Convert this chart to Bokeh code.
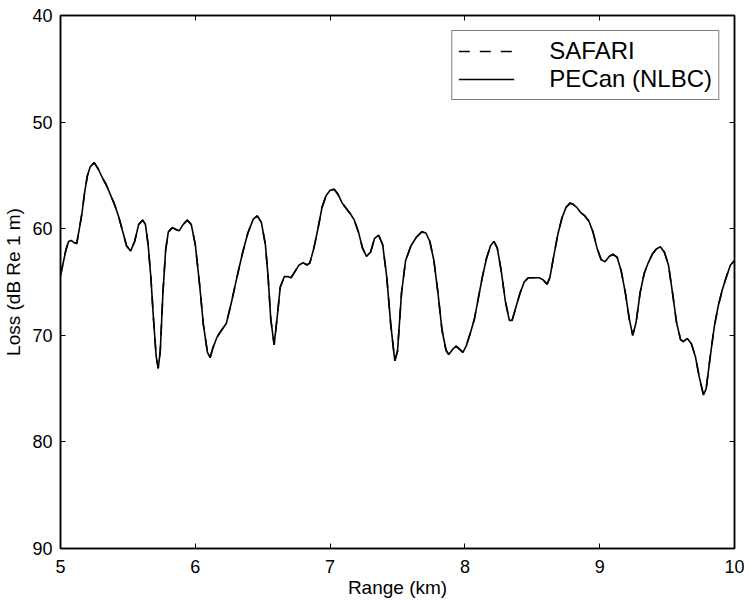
from bokeh.plotting import figure
from bokeh.models import Range1d, LinearAxis, Legend, LegendItem, FixedTicker
from bokeh.embed import file_html
from bokeh.resources import INLINE

range_km = [5.00, 5.02, 5.04, 5.06, 5.08, 5.10, 5.12, 5.14, 5.16, 5.18, 5.20, 5.22, 5.25, 5.28, 5.31,
            5.34, 5.37, 5.40, 5.43, 5.46, 5.49, 5.52, 5.55, 5.58, 5.61, 5.63, 5.65, 5.67, 5.69, 5.71,
            5.725, 5.74, 5.76, 5.78, 5.80, 5.83, 5.86, 5.88, 5.91, 5.94, 5.97, 6.00, 6.03, 6.06, 6.09,
            6.11, 6.13, 6.16, 6.19, 6.23, 6.27, 6.31, 6.35, 6.39, 6.43, 6.46, 6.49, 6.52, 6.54, 6.56,
            6.585, 6.61, 6.63, 6.66, 6.69, 6.71, 6.74, 6.77, 6.80, 6.83, 6.85, 6.88, 6.91, 6.94, 6.97,
            7.00, 7.03, 7.06, 7.09, 7.12, 7.15, 7.18, 7.21, 7.24, 7.27, 7.30, 7.33, 7.36, 7.39, 7.42,
            7.45, 7.48, 7.50, 7.53, 7.56, 7.60, 7.64, 7.68, 7.71, 7.74, 7.77, 7.80, 7.83, 7.86, 7.88,
            7.91, 7.935, 7.96, 7.985, 8.01, 8.04, 8.07, 8.10, 8.13, 8.16, 8.19, 8.215, 8.24, 8.27, 8.30,
            8.33, 8.35, 8.38, 8.41, 8.44, 8.47, 8.51, 8.55, 8.58, 8.61, 8.63, 8.66, 8.69, 8.72, 8.75,
            8.78, 8.80, 8.83, 8.86, 8.89, 8.92, 8.95, 8.98, 9.01, 9.04, 9.07, 9.10, 9.13, 9.16, 9.19,
            9.22, 9.245, 9.27, 9.30, 9.33, 9.36, 9.39, 9.42, 9.45, 9.48, 9.51, 9.54, 9.57, 9.60, 9.62,
            9.65, 9.68, 9.71, 9.74, 9.77, 9.79, 9.82, 9.85, 9.88, 9.91, 9.94, 9.97, 10.00]

pecan_loss = [64.4, 63.2, 62.0, 61.2, 61.1, 61.3, 61.4, 60.0, 58.5, 56.5, 55.0, 54.2, 53.8, 54.4, 55.2,
              55.9, 56.8, 57.7, 58.8, 60.2, 61.6, 62.1, 61.2, 59.6, 59.2, 59.6, 61.5, 64.5, 68.5, 72.0,
              73.1, 71.5, 66.0, 62.0, 60.3, 59.9, 60.1, 60.2, 59.6, 59.2, 59.6, 61.5, 65.0, 69.0, 71.6,
              72.1, 71.2, 70.2, 69.6, 68.9, 66.8, 64.5, 62.3, 60.4, 59.1, 58.8, 59.4, 61.5, 64.5, 68.5,
              70.9, 68.0, 65.5, 64.5, 64.5, 64.6, 64.0, 63.4, 63.2, 63.4, 63.2, 61.8, 60.0, 58.0, 56.9,
              56.4, 56.3, 56.8, 57.6, 58.1, 58.6, 59.2, 60.3, 61.8, 62.6, 62.2, 60.9, 60.6, 61.5, 64.5,
              69.0, 72.4, 71.5, 66.0, 63.0, 61.6, 60.8, 60.3, 60.4, 61.2, 63.0, 66.0, 69.5, 71.4, 71.8,
              71.3, 71.0, 71.3, 71.6, 71.0, 69.8, 68.5, 66.5, 64.5, 62.8, 61.6, 61.2, 61.8, 64.0, 66.8,
              68.6, 68.6, 67.3, 66.0, 65.0, 64.6, 64.6, 64.6, 64.8, 65.2, 64.6, 62.5, 60.5, 59.0, 58.0,
              57.6, 57.7, 58.0, 58.5, 58.8, 59.3, 60.3, 61.8, 62.9, 63.1, 62.6, 62.4, 62.7, 64.0, 66.0,
              68.5, 70.0, 68.8, 66.0, 64.2, 63.2, 62.4, 61.9, 61.7, 62.2, 63.4, 66.0, 68.8, 70.4, 70.6,
              70.3, 70.8, 72.0, 74.0, 75.6, 75.0, 72.0, 69.2, 67.2, 65.7, 64.5, 63.4, 63.0]

safari_loss = list(pecan_loss)  # SAFARI curve overlaps PECan within line width

x_ticks = [5, 6, 7, 8, 9, 10]
y_ticks = [40, 50, 60, 70, 80, 90]

FONT = "Liberation Sans"

p = figure(width=744, height=600, output_backend="svg", toolbar_location=None,
           x_range=Range1d(5, 10), y_range=Range1d(90, 40),
           min_border_left=60, min_border_right=10, min_border_top=15, min_border_bottom=52,
           x_axis_label="Range (km)", y_axis_label="Loss (dB Re 1 m)")
p.xgrid.visible = False
p.ygrid.visible = False
p.outline_line_color = "black"
p.outline_line_width = 1.5
p.background_fill_color = "white"
p.border_fill_color = "white"

for ax in (p.xaxis[0], p.yaxis[0]):
    ax.major_tick_in = 5
    ax.major_tick_out = 0
    ax.minor_tick_in = 0
    ax.minor_tick_out = 0
    ax.axis_line_color = "black"
    ax.axis_line_width = 1.5
    ax.major_tick_line_color = "black"
    ax.major_label_text_font = FONT
    ax.major_label_text_font_size = "18px"
    ax.major_label_text_color = "black"
    ax.axis_label_text_font = FONT
    ax.axis_label_text_font_size = "19px"
    ax.axis_label_text_font_style = "normal"
    ax.axis_label_text_color = "black"

p.xaxis[0].ticker = FixedTicker(ticks=x_ticks)
p.yaxis[0].ticker = FixedTicker(ticks=y_ticks)
p.xaxis[0].major_label_standoff = 11
p.yaxis[0].major_label_standoff = 8
p.xaxis[0].axis_label_standoff = 1
p.yaxis[0].axis_label_standoff = 5

top = LinearAxis(ticker=FixedTicker(ticks=x_ticks), major_tick_in=5, major_tick_out=0,
                 minor_tick_in=0, minor_tick_out=0, major_label_text_font_size="0px",
                 major_label_text_alpha=0, axis_line_width=1.5)
right = LinearAxis(ticker=FixedTicker(ticks=y_ticks), major_tick_in=5, major_tick_out=0,
                   minor_tick_in=0, minor_tick_out=0, major_label_text_font_size="0px",
                   major_label_text_alpha=0, axis_line_width=1.5)
p.add_layout(top, "above")
p.add_layout(right, "right")

r_pecan = p.line(range_km, pecan_loss, line_color="black", line_width=1.6)
r_safari = p.line(range_km, safari_loss, line_color="black", line_width=1.6, line_dash="11 10")

legend = Legend(items=[LegendItem(label="SAFARI", renderers=[r_safari]),
                       LegendItem(label="PECan (NLBC)", renderers=[r_pecan])],
                location="top_right")
legend.label_text_font = FONT
legend.label_text_font_size = "24px"
legend.label_text_color = "black"
legend.label_text_line_height = 0.8
legend.label_height = 18
legend.glyph_height = 18
legend.glyph_width = 56
legend.label_standoff = 35
legend.spacing = 0
legend.padding = 6
legend.margin = 15
legend.border_line_color = "black"
legend.border_line_width = 1.5
legend.background_fill_alpha = 1
p.add_layout(legend)

open("out.html", "w").write(file_html(p, INLINE))
